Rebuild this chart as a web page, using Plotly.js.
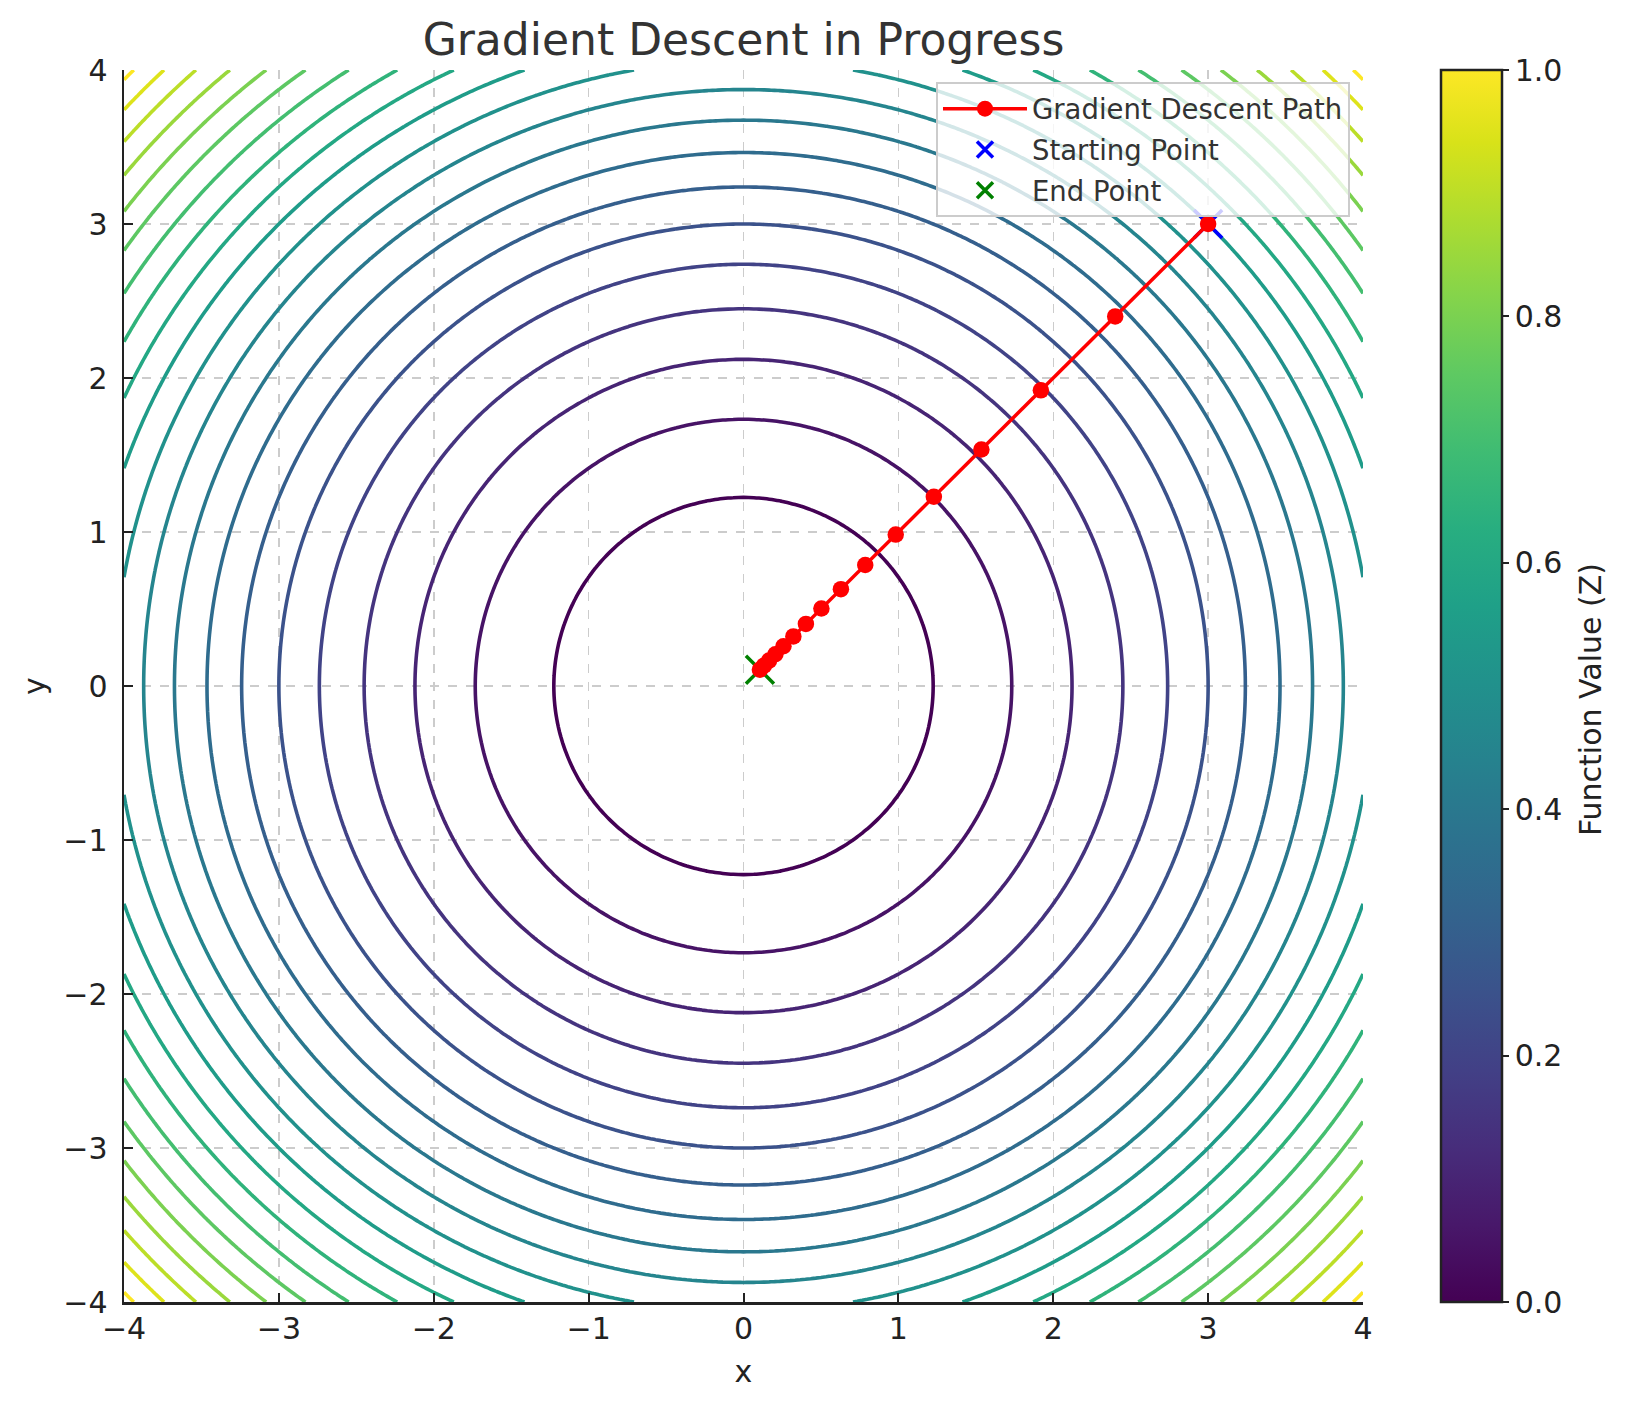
<!DOCTYPE html>
<html>
<head>
<meta charset="utf-8">
<script src="https://cdn.plot.ly/plotly-3.0.1.min.js"></script>
<style>html,body{margin:0;padding:0;background:#fff;}#chart{width:1629px;height:1409px;}</style>
</head>
<body>
<div id="chart"></div>
<script>
// Gradient descent path values
const pathX = [3.0, 2.4, 1.92, 1.536, 1.229, 0.983, 0.786, 0.629, 0.503, 0.403, 0.322, 0.258, 0.206, 0.165, 0.132, 0.106];
const pathY = [3.0, 2.4, 1.92, 1.536, 1.229, 0.983, 0.786, 0.629, 0.503, 0.403, 0.322, 0.258, 0.206, 0.165, 0.132, 0.106];
const startPoint = [3.0, 3.0];
const endPoint = [0.106, 0.106];

// Contour surface f(x,y) = x^2 + y^2 over [-4,4]
const gridMin = -4, gridMax = 4, gridN = 241;
const contourStart = 1.5, contourEnd = 31.5, contourStep = 1.5;

const axisTicks = [-4, -3, -2, -1, 0, 1, 2, 3, 4];
const axisTickText = ['\u22124', '\u22123', '\u22122', '\u22121', '0', '1', '2', '3', '4'];
const cbarTicks = [0, 0.2, 0.4, 0.6, 0.8, 1.0];
const cbarTickText = ['0.0', '0.2', '0.4', '0.6', '0.8', '1.0'];
const cbarLabel = 'Function Value (Z)';

function f(x, y) { return x * x + y * y; }
const gx = [], gy = [];
for (let i = 0; i < gridN; i++) { gx.push(gridMin + (gridMax - gridMin) * i / (gridN - 1)); }
for (let i = 0; i < gridN; i++) { gy.push(gridMin + (gridMax - gridMin) * i / (gridN - 1)); }
const gz = gy.map(yv => gx.map(xv => f(xv, yv)));

const FONT = 'DejaVu Sans, sans-serif';

const traces = [
  {
    type: 'contour', x: gx, y: gy, z: gz,
    autocontour: false,
    contours: { start: contourStart, end: contourEnd, size: contourStep, coloring: 'lines' },
    line: { width: 3.6, smoothing: 1 },
    colorscale: 'Viridis', zmin: 0, zmax: contourEnd,
    showscale: false, hoverinfo: 'skip', showlegend: false
  },
  {
    type: 'heatmap', z: [[0, 1]], x: [10, 11], y: [10],
    colorscale: 'Viridis', zmin: 0, zmax: 1, hoverinfo: 'skip', showlegend: false,
    showscale: true,
    colorbar: {
      x: 1.063, xanchor: 'left', xref: 'paper', xpad: 0, ypad: 0,
      y: 0.5, yanchor: 'middle', len: 1, lenmode: 'fraction',
      thickness: 61, thicknessmode: 'pixels',
      outlinewidth: 2.5, outlinecolor: '#222',
      tickmode: 'array', tickvals: cbarTicks, ticktext: cbarTickText,
      ticks: 'outside', ticklen: 6, tickwidth: 2, tickcolor: '#222',
      tickfont: { family: FONT, size: 30, color: '#222' }
    }
  },
  {
    type: 'scatter', mode: 'markers', x: [startPoint[0]], y: [startPoint[1]],
    name: 'Starting Point', legendrank: 2, legendgroup: 'b',
    marker: { symbol: 'x-thin', size: 28, color: 'blue', line: { width: 3.5, color: 'blue' } },
    hoverinfo: 'skip'
  },
  {
    type: 'scatter', mode: 'markers', x: [endPoint[0]], y: [endPoint[1]],
    name: 'End Point', legendrank: 3, legendgroup: 'c',
    marker: { symbol: 'x-thin', size: 28, color: 'green', line: { width: 3.5, color: 'green' } },
    hoverinfo: 'skip'
  },
  {
    type: 'scatter', mode: 'lines+markers', x: pathX, y: pathY,
    name: 'Gradient Descent Path', legendrank: 1, legendgroup: 'a',
    line: { color: 'red', width: 3.5 },
    marker: { color: 'red', size: 16.5, symbol: 'circle' },
    hoverinfo: 'skip'
  }
];

const axisCommon = {
  range: [-4, 4], autorange: false,
  tickmode: 'array', tickvals: axisTicks, ticktext: axisTickText,
  ticks: 'inside', ticklen: 9, tickwidth: 2, tickcolor: '#222',
  showline: true, linecolor: '#222', linewidth: 2.5, mirror: false,
  showgrid: true, gridcolor: '#cccccc', gridwidth: 1.5, griddash: 'dash',
  zeroline: false,
  tickfont: { family: FONT, size: 30, color: '#222' }
};

const layout = {
  width: 1629, height: 1409,
  margin: { l: 124, r: 266, t: 70, b: 107, pad: 0 },
  paper_bgcolor: '#fff', plot_bgcolor: '#fff',
  font: { family: FONT, color: '#222' },
  title: { text: 'Gradient Descent in Progress', x: 0.5, xref: 'paper', xanchor: 'center', y: 0.972, yanchor: 'middle', font: { family: FONT, size: 44, color: '#333' } },
  xaxis: Object.assign({}, axisCommon, { title: { text: 'x', standoff: 17, font: { family: FONT, size: 30, color: '#222' } }, ticklabelstandoff: -2 }),
  yaxis: Object.assign({}, axisCommon, { title: { text: 'y', standoff: 9, font: { family: FONT, size: 30, color: '#222' } }, ticklabelstandoff: 8 }),
  legend: {
    x: 0.9895, xanchor: 'right', y: 0.99, yanchor: 'top',
    bgcolor: 'rgba(255,255,255,0.8)', bordercolor: '#cccccc', borderwidth: 2,
    font: { family: FONT, size: 27.5, color: '#333' },
    tracegroupgap: 2, traceorder: 'grouped', itemwidth: 84
  },
  annotations: [{
    text: cbarLabel, textangle: -90, showarrow: false,
    xref: 'paper', yref: 'paper', x: 1.1832, y: 0.4894, xanchor: 'center', yanchor: 'middle',
    font: { family: FONT, size: 30, color: '#222' }
  }],
  showlegend: true
};

Plotly.newPlot('chart', traces, layout, { displayModeBar: false, staticPlot: true });
</script>
</body>
</html>
